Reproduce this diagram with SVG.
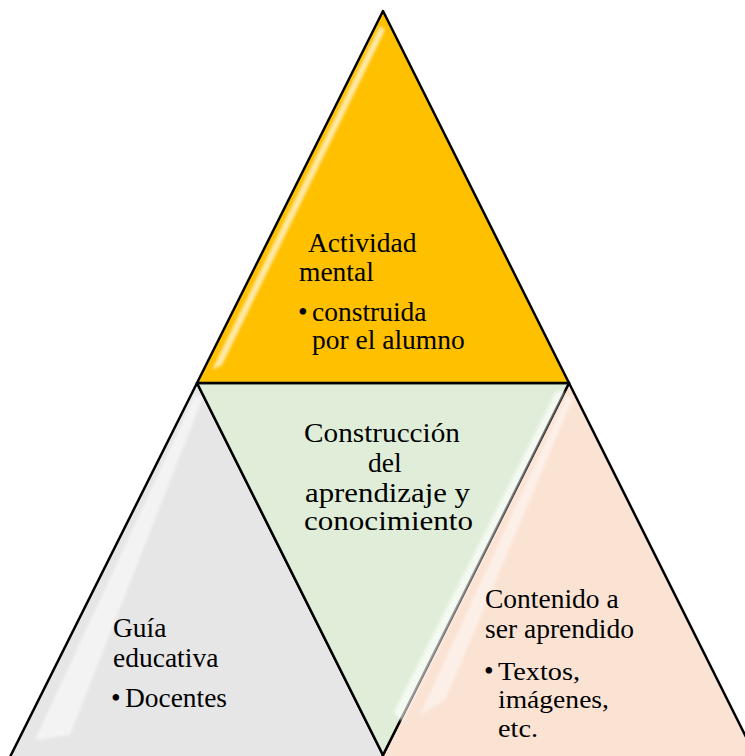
<svg xmlns="http://www.w3.org/2000/svg" width="745" height="756" viewBox="0 0 745 756">
<defs>
<style>
.tri{stroke:#000;stroke-width:2.5;stroke-linejoin:round}
text{font-family:'Liberation Serif','Times New Roman',serif;font-size:27.5px;fill:#000}
.sm{font-size:25px}
.hl{fill:#fff;filter:url(#blur)}
</style>
<filter id="blur" x="-20%" y="-20%" width="140%" height="140%"><feGaussianBlur stdDeviation="1.6"/></filter>
</defs>
<rect width="745" height="756" fill="#fff"/>

<g id="guia">
<polygon class="tri" points="197,383 0,777 394,777" fill="#E7E6E6"/>
<polygon class="hl" points="195,395 203,397 70,735 35,740" opacity="0.55"/>
<text x="113" y="637">Guía</text>
<text x="113" y="667">educativa</text>
<text x="111" y="707">•</text>
<text x="125" y="707" textLength="102" lengthAdjust="spacingAndGlyphs">Docentes</text>
</g>

<g id="contenido">
<polygon class="tri" points="569,383 372,777 766,777" fill="#FBE3D4"/>
<polygon class="hl" points="567,395 573,398 445,700 420,715" opacity="0.45"/>
<text x="485" y="608">Contenido a</text>
<text x="485" y="638">ser aprendido</text>
<text x="484" y="680">•</text>
<text class="sm" x="498" y="680" textLength="82" lengthAdjust="spacingAndGlyphs">Textos,</text>
<text class="sm" x="498" y="708" textLength="111" lengthAdjust="spacingAndGlyphs">imágenes,</text>
<text class="sm" x="498" y="737" textLength="40" lengthAdjust="spacingAndGlyphs">etc.</text>
</g>

<g id="construccion">
<polygon class="tri" points="197,383 569,383 383,755" fill="#E0EED9"/>
<polygon class="hl" points="556,392 565,391 402,722 394,712" opacity="0.65"/>
<text x="304" y="442" textLength="156" lengthAdjust="spacingAndGlyphs">Construcción</text>
<text x="368" y="472">del</text>
<text x="305" y="502" textLength="165" lengthAdjust="spacingAndGlyphs">aprendizaje y</text>
<text x="304" y="530" textLength="169" lengthAdjust="spacingAndGlyphs">conocimiento</text>
</g>

<g id="actividad">
<polygon class="tri" points="383,11 569,383 197,383" fill="#FFC000"/>
<polygon class="hl" points="380,26 385,30 222,365 212,370" opacity="0.65"/>
<text x="308" y="252">Actividad</text>
<text x="299" y="281">mental</text>
<text x="298" y="321">•</text>
<text x="312" y="321">construida</text>
<text x="312" y="349">por el alumno</text>
</g>

<g id="connectors"/>
</svg>
